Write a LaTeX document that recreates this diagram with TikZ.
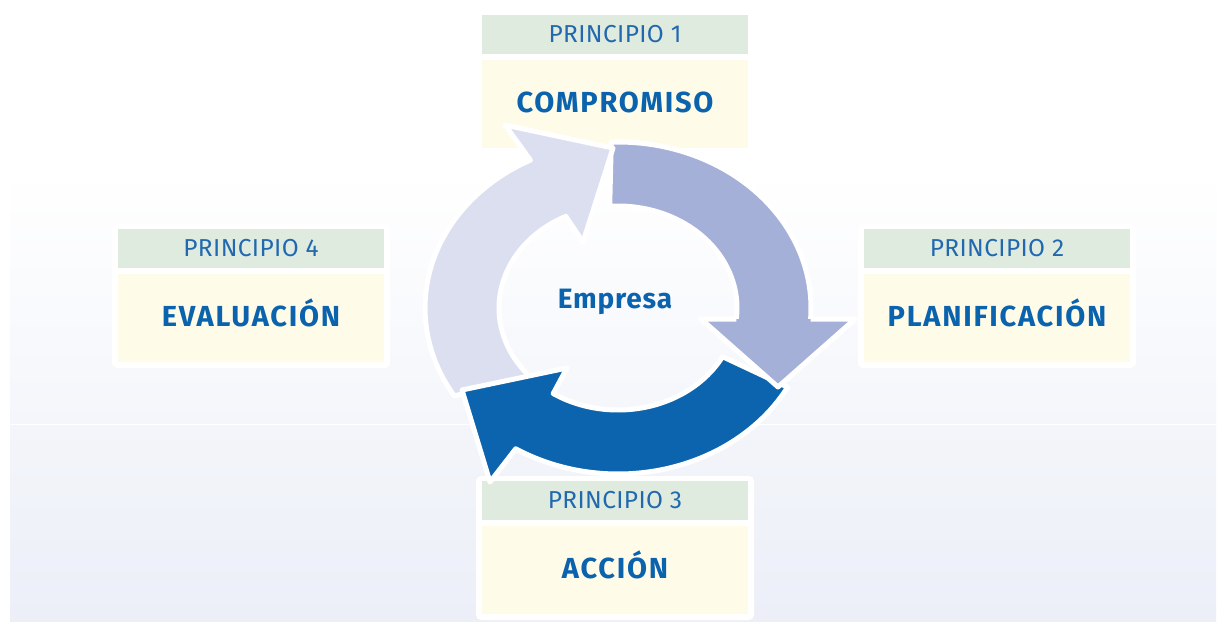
\documentclass[tikz,border=0pt]{standalone}
\usepackage{fontspec}
\setmainfont{Fira Sans}
\newfontfamily\hfont[LetterSpace=1.5]{Fira Sans}
\newfontfamily\bfont[LetterSpace=6]{Fira Sans}
\newfontfamily\efont[LetterSpace=3]{Fira Sans}
\usetikzlibrary{calc}
\definecolor{lightA}{HTML}{DCDFF0}
\definecolor{midA}{HTML}{A5B0D8}
\definecolor{darkA}{HTML}{0B64AD}
\definecolor{hdr}{HTML}{DFEBDF}
\definecolor{bodyc}{HTML}{FFFBE9}
\definecolor{txt}{HTML}{0B63AE}
\definecolor{htxt}{HTML}{2268AE}
\definecolor{bgA}{HTML}{F4F6FB}
\definecolor{bgB}{HTML}{F3F5FA}
\definecolor{bgC}{HTML}{ECEFF8}
\newcommand\principle[5]{%
  \node[framebox] (#1f) at (#2,{-#3-67}) {};
  \node[hdrbox] (#1h) at (#2,{-#3-19.5}) {};
  \node[bodybox] (#1b) at (#2,{-#3-89}) {};
  \node[hdrtext] (#1ht) at (#2,{-#3-27.3}) {#4};
  \node[titletext] (#1t) at (#2,{-#3-97}) {#5};
}
\begin{document}
\begin{tikzpicture}[x=1pt,y=1pt,
  arrowshape/.style={draw=white,line width=5pt,line join=round},
  framebox/.style={fill=white,rounded corners=5pt,minimum width=278pt,minimum height=144pt,inner sep=0pt},
  hdrbox/.style={fill=hdr,minimum width=266pt,minimum height=39pt,inner sep=0pt},
  bodybox/.style={fill=bodyc,minimum width=266pt,minimum height=88pt,inner sep=0pt},
  hdrtext/.style={text=htxt,font=\hfont\fontsize{24.5}{24.5}\selectfont,anchor=base,inner sep=0pt},
  titletext/.style={text=txt,font=\bfont\bfseries\fontsize{29}{29}\selectfont,anchor=base,inner sep=0pt},
]
\useasboundingbox (0,0) rectangle (1218,-622);
\fill[white] (0,0) rectangle (1218,-622);
\shade[top color=white,bottom color=bgA] (10,-170) rectangle (1216,-424);
\shade[top color=bgB,bottom color=bgC] (10,-424) rectangle (1216,-621);
\draw[white,line width=1pt] (10,-424) -- (1216,-424);

\principle{p1}{615}{15}{PRINCIPIO 1}{COMPROMISO}
\principle{p2}{997}{229}{PRINCIPIO 2}{PLANIFICACIÓN}
\principle{p3}{615}{481}{PRINCIPIO 3}{ACCIÓN}
\principle{p4}{251}{229}{PRINCIPIO 4}{EVALUACIÓN}

\coordinate (C) at (618,-308);
% medium arrow (planificacion)
\filldraw[arrowshape,fill=midA] ($(C)+(92:193pt and 166pt)$) arc[start angle=92,end angle=-3.8,x radius=193pt,y radius=166pt]
  -- (855,-319) -- (778,-387) -- (701,-319)
  -- ($(C)+(-6.2:119pt and 102pt)$) arc[start angle=-6.2,end angle=94,x radius=119pt,y radius=102pt] -- cycle;
% light arrow (evaluacion -> compromiso)
\filldraw[arrowshape,fill=lightA] ($(C)+(212:193pt and 166pt)$) arc[start angle=212,end angle=117,x radius=193pt,y radius=166pt]
  -- (505,-125) -- (613,-148) -- (583,-242)
  -- ($(C)+(116:119pt and 102pt)$) arc[start angle=116,end angle=222,x radius=119pt,y radius=102pt] -- cycle;
% dark arrow (accion)
\filldraw[arrowshape,fill=darkA] ($(C)+(-28.5:193pt and 166pt)$) arc[start angle=-28.5,end angle=-122,x radius=193pt,y radius=166pt]
  -- (490,-482) -- (462,-390) -- (567,-368)
  -- ($(C)+(-123:119pt and 102pt)$) arc[start angle=-123,end angle=-28.5,x radius=119pt,y radius=102pt] -- cycle;
% medium arrow head on top
\fill[midA] ($(C)+(-3.8:193pt and 166pt)$) -- (855,-319) -- (778,-387) -- (701,-319) -- ($(C)+(-6.2:119pt and 102pt)$) -- cycle;
\draw[white,line width=5pt,line join=round] ($(C)+(-3.8:193pt and 166pt)$) -- (855,-319) -- (778,-387) -- (701,-319) -- ($(C)+(-6.2:119pt and 102pt)$);

\node[text=txt,font=\efont\bfseries\fontsize{28}{28}\selectfont,anchor=base,inner sep=0pt] (emp) at (615,-308) {Empresa};
\end{tikzpicture}
\end{document}
